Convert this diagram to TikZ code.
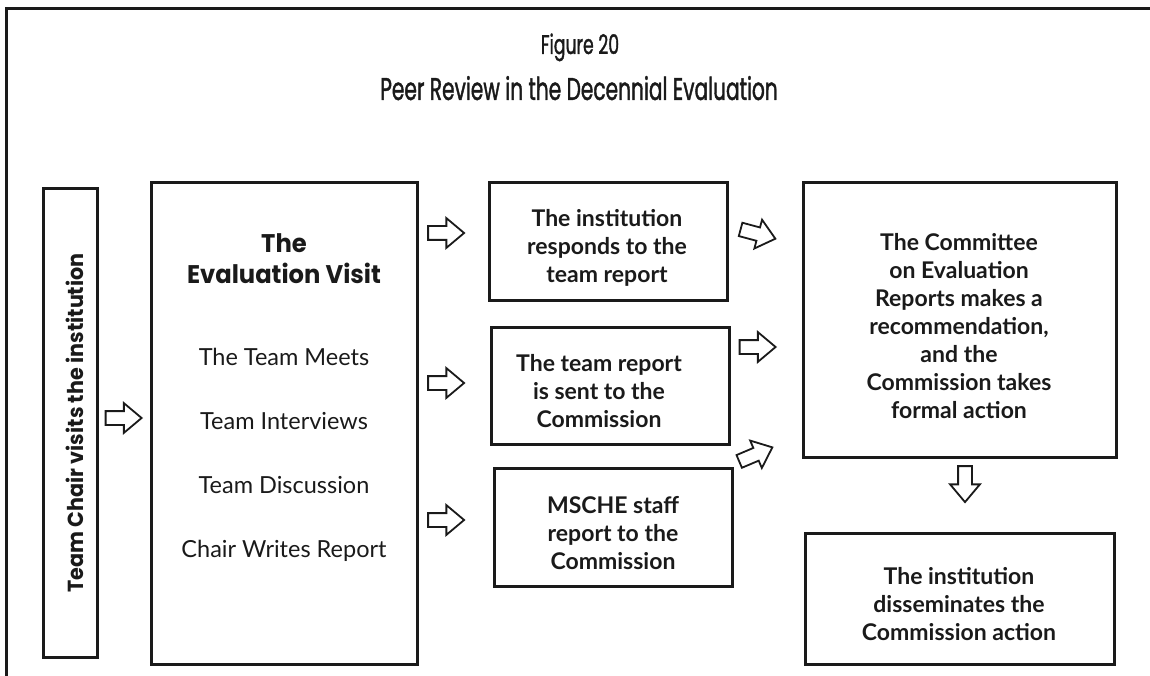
\documentclass[tikz,border=0pt]{standalone}
\usepackage{fontspec}
\setmainfont{Lato}
\newfontfamily\geofont[FakeStretch=0.95]{Poppins}
\newfontfamily\titlefont[FakeStretch=0.64, FakeBold=1.2]{Poppins}
\usetikzlibrary{shapes.arrows}
\definecolor{ink}{HTML}{1A1A1A}
\begin{document}
\begin{tikzpicture}[x=1pt,y=-1pt,
  box/.style={draw=ink, line width=3pt, inner sep=0pt},
  boxtext/.style={inner sep=0pt, align=center, text=ink,
    font=\fontsize{23}{28}\selectfont\bfseries},
  itemtext/.style={inner sep=0pt, anchor=base, text=ink,
    font=\fontsize{23.5}{28}\selectfont},
  blockarrow/.style={single arrow, draw=ink, line width=1.8pt, fill=white,
    minimum height=36pt, minimum width=28pt, single arrow head extend=8pt,
    single arrow tip angle=80, inner xsep=0pt, inner ysep=6pt}]
\useasboundingbox (0,0) rectangle (1150,676);
% frame (cropped)
\draw[ink, line width=3pt] (6.5,676) -- (6.5,8.5) -- (1150,8.5);
% title
\node[anchor=base, inner sep=0pt, text=ink, font=\titlefont\fontsize{27}{27}\selectfont] (fig) at (580,54) {Figure 20};
\node[anchor=base, inner sep=0pt, text=ink, font=\titlefont\fontsize{31.5}{31.5}\selectfont] (ttl) at (579,100) {Peer Review in the Decennial Evaluation};
% left column
\node[box, minimum width=54pt, minimum height=468pt] (chair) at (70,423) {};
\node[rotate=90, inner sep=0pt, text=ink, font=\geofont\bfseries\fontsize{21.8}{21.8}\selectfont] (chairtxt) at (75,423) {Team Chair visits the institution};
\node[box, minimum width=266pt, minimum height=481pt] (visit) at (284,423.5) {};
\node[anchor=base, inner sep=0pt, text=ink, font=\geofont\bfseries\fontsize{25.5}{25.5}\selectfont] (vt1) at (284,252) {The};
\node[anchor=base, inner sep=0pt, text=ink, font=\geofont\bfseries\fontsize{25.5}{25.5}\selectfont] (vt2) at (284,283) {Evaluation Visit};
\node[itemtext] (it1) at (284,365) {The Team Meets};
\node[itemtext] (it2) at (284,429) {Team Interviews};
\node[itemtext] (it3) at (284,493) {Team Discussion};
\node[itemtext] (it4) at (284,557) {Chair Writes Report};
% middle column
\node[box, minimum width=238pt, minimum height=117pt] (resp) at (608,241.5) {};
\node[boxtext] (resptxt) at (607,248) {The institution\\responds to the\\team report};
\node[box, minimum width=238pt, minimum height=117pt] (sent) at (610,385.5) {};
\node[boxtext] (senttxt) at (599,391.5) {The team report\\is sent to the\\Commission};
\node[box, minimum width=238pt, minimum height=118pt] (staff) at (613,527) {};
\node[boxtext] (stafftxt) at (613,533) {MSCHE staff\\report to the\\Commission};
% right column
\node[box, minimum width=313pt, minimum height=274pt] (cer) at (959.5,320) {};
\node[boxtext] (certxt) at (959,326) {The Committee\\on Evaluation\\Reports makes a\\recommendation,\\and the\\Commission takes\\formal action};
\node[box, minimum width=309pt, minimum height=131pt] (diss) at (959.5,598.5) {};
\node[boxtext] (disstxt) at (959,604.5) {The institution\\disseminates the\\Commission action};
% block arrows
\node[blockarrow] (a0) at (119.5,418) {};
\node[blockarrow] (a1) at (442,233) {};
\node[blockarrow] (a2) at (442,383) {};
\node[blockarrow] (a3) at (442,520) {};
\node[blockarrow, rotate=-15] (a4) at (754,233) {};
\node[blockarrow] (a5) at (753.5,347) {};
\node[blockarrow, rotate=23] (a6) at (752,456) {};
\node[blockarrow, rotate=-90] (a7) at (965,480) {};
\end{tikzpicture}
\end{document}
